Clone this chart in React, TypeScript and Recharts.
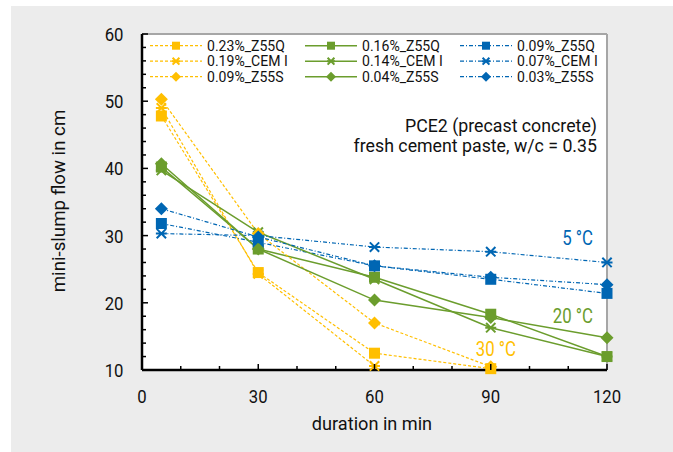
import {
  LineChart,
  Line,
  XAxis,
  YAxis,
  CartesianGrid,
  ReferenceLine,
  Customized,
} from "recharts";

const times = [5, 30, 60, 90, 120];

// 30 °C
const y23Z55Q = [47.8, 24.5, 12.5, 10.2, null];
const y19CEM = [49.0, 24.3, 10.6, null, null];
const y09Z55S = [50.3, 30.3, 17.0, 10.5, null];
// 20 °C
const g16Z55Q = [40.2, 28.0, 23.8, 18.3, 12.0];
const g14CEM = [39.7, 30.5, 23.5, 16.3, 12.0];
const g04Z55S = [40.7, 28.0, 20.4, 17.8, 14.8];
// 5 °C
const b09Z55Q = [31.8, 29.0, 25.5, 23.5, 21.4];
const b07CEM = [30.3, 30.0, 28.3, 27.6, 26.0];
const b03Z55S = [34.0, 29.8, 25.5, 23.8, 22.7];

const xTicks = [0, 10, 20, 30, 40, 50, 60, 70, 80, 90, 100, 110, 120];
const xLabels = [0, 30, 60, 90, 120];
const yTicks = [10, 12, 14, 16, 18, 20, 22, 24, 26, 28, 30, 32, 34, 36, 38, 40, 42, 44, 46, 48, 50, 52, 54, 56, 58, 60];
const yLabels = [10, 20, 30, 40, 50, 60];

const YELLOW = "#ffbf00";
const GREEN = "#6b9d2d";
const BLUE = "#0066b3";
const INK = "#111";
const FONT = "Roboto, sans-serif";

type Shape = "square" | "star" | "diamond";

type SeriesDef = {
  key: string;
  name: string;
  values: (number | null)[];
  color: string;
  shape: Shape;
  dash?: string;
  width: number;
};

const series: SeriesDef[] = [
  { key: "y1", name: "0.23%_Z55Q", values: y23Z55Q, color: YELLOW, shape: "square", dash: "3 2", width: 1.2 },
  { key: "g1", name: "0.16%_Z55Q", values: g16Z55Q, color: GREEN, shape: "square", width: 1.5 },
  { key: "b1", name: "0.09%_Z55Q", values: b09Z55Q, color: BLUE, shape: "square", dash: "4 2 1 2", width: 1.2 },
  { key: "y2", name: "0.19%_CEM I", values: y19CEM, color: YELLOW, shape: "star", dash: "3 2", width: 1.2 },
  { key: "g2", name: "0.14%_CEM I", values: g14CEM, color: GREEN, shape: "star", width: 1.5 },
  { key: "b2", name: "0.07%_CEM I", values: b07CEM, color: BLUE, shape: "star", dash: "4 2 1 2", width: 1.2 },
  { key: "y3", name: "0.09%_Z55S", values: y09Z55S, color: YELLOW, shape: "diamond", dash: "3 2", width: 1.2 },
  { key: "g3", name: "0.04%_Z55S", values: g04Z55S, color: GREEN, shape: "diamond", width: 1.5 },
  { key: "b3", name: "0.03%_Z55S", values: b03Z55S, color: BLUE, shape: "diamond", dash: "4 2 1 2", width: 1.2 },
];

const rows = times.map((t, i) => {
  const row: Record<string, number | null> = { t };
  series.forEach((s) => {
    row[s.key] = s.values[i];
  });
  return row;
});

// narrow text: Roboto squeezed horizontally
const NText = ({ x, y, size, color = INK, sx = 1, anchor = "start", children }: any) => (
  <text
    transform={`translate(${x},${y}) scale(${sx},1)`}
    textAnchor={anchor}
    fontSize={size}
    fontFamily={FONT}
    fill={color}
  >
    {children}
  </text>
);

const Marker = ({ cx, cy, shape, color, size }: { cx: number; cy: number; shape: Shape; color: string; size: number }) => {
  const h = size / 2;
  if (shape === "square") {
    return <rect x={cx - h} y={cy - h} width={size} height={size} fill={color} />;
  }
  if (shape === "diamond") {
    return (
      <path
        d={`M${cx},${cy - h - 1}L${cx + h + 1},${cy}L${cx},${cy + h + 1}L${cx - h - 1},${cy}Z`}
        fill={color}
      />
    );
  }
  const k = h * 0.85;
  return (
    <path
      d={`M${cx - k},${cy - k}L${cx + k},${cy + k}M${cx - k},${cy + k}L${cx + k},${cy - k}M${cx - h},${cy}L${cx + h},${cy}`}
      stroke={color}
      strokeWidth={2}
      fill="none"
    />
  );
};

const makeDot = (s: SeriesDef) => (props: any) => {
  const { cx, cy, index, value } = props;
  if (value == null || cx == null || cy == null) return <g key={`${s.key}-${index}`} />;
  return (
    <g key={`${s.key}-${index}`}>
      <Marker cx={cx} cy={cy} shape={s.shape} color={s.color} size={11} />
    </g>
  );
};

const XTick = (props: any) => {
  const { x, y, payload } = props;
  const major = xLabels.includes(payload.value);
  return (
    <g>
      <line x1={x} y1={y} x2={x} y2={y - (major ? 6 : 4)} stroke="#000" strokeWidth={1.5} />
      {major && (
        <NText x={x} y={y + 33} size={19} sx={0.88} anchor="middle">
          {payload.value}
        </NText>
      )}
    </g>
  );
};

const YTick = (props: any) => {
  const { x, y, payload } = props;
  const major = yLabels.includes(payload.value);
  return (
    <g>
      <line x1={x} y1={y} x2={x + (major ? 6 : 4)} y2={y} stroke="#000" strokeWidth={1.5} />
      {major && (
        <NText x={x - 18.5} y={y + 7} size={19} sx={0.88} anchor="end">
          {payload.value}
        </NText>
      )}
    </g>
  );
};

const legendCols = [150, 305, 460];
const legendRows = [45.7, 61.2, 76.7];

const LegendBox = () => (
  <g>
    {series.map((s, i) => {
      const lx = legendCols[i % 3];
      const ly = legendRows[Math.floor(i / 3)];
      return (
        <g key={s.key}>
          <line x1={lx} y1={ly} x2={lx + 52} y2={ly} stroke={s.color} strokeWidth={s.width} strokeDasharray={s.dash} />
          <Marker cx={lx + 26} cy={ly} shape={s.shape} color={s.color} size={8} />
          <NText x={lx + 57} y={ly + 5} size={14.5} sx={0.97}>
            {s.name}
          </NText>
        </g>
      );
    })}
  </g>
);

const Notes = () => (
  <g>
    <LegendBox />
    <NText x={597} y={132} size={18.7} sx={0.95} anchor="end">
      PCE2 (precast concrete)
    </NText>
    <NText x={597} y={152} size={18.7} sx={0.95} anchor="end">
      fresh cement paste, w/c = 0.35
    </NText>
    <NText x={593} y={245} size={21} sx={0.8} anchor="end" color={BLUE}>
      5 °C
    </NText>
    <NText x={593} y={323} size={21} sx={0.8} anchor="end" color={GREEN}>
      20 °C
    </NText>
    <NText x={516} y={356} size={21} sx={0.8} anchor="end" color={YELLOW}>
      30 °C
    </NText>
    <text
      transform="translate(65,201) rotate(-90)"
      textAnchor="middle"
      fontSize={18.7}
      fontFamily={FONT}
      fill={INK}
    >
      mini-slump flow in cm
    </text>
    <NText x={372} y={430} size={18.7} sx={0.97} anchor="middle">
      duration in min
    </NText>
  </g>
);

export default function App() {
  return (
    <div style={{ position: "absolute", left: 0, top: 0, width: 673, height: 452, background: "#fff" }}>
      <div style={{ position: "absolute", left: 11, top: 6, right: 0, bottom: 0, background: "#ececec" }} />
      <div style={{ position: "absolute", left: 0, top: 0 }}>
        <LineChart width={673} height={452} data={rows} margin={{ top: 34, right: 66, bottom: 0, left: 0 }}>
          <CartesianGrid fill="#fff" horizontal={false} vertical={false} />
          <ReferenceLine y={60} stroke="#a6a6a6" strokeWidth={2} />
          <ReferenceLine x={120} stroke="#a6a6a6" strokeWidth={2} />
          <XAxis
            dataKey="t"
            type="number"
            domain={[0, 120]}
            ticks={xTicks}
            interval={0}
            height={82}
            tickLine={false}
            tickSize={0}
            tickMargin={0}
            axisLine={{ stroke: "#000", strokeWidth: 2.5 }}
            tick={<XTick />}
          />
          <YAxis
            type="number"
            domain={[10, 60]}
            ticks={yTicks}
            interval={0}
            width={142}
            tickLine={false}
            tickSize={0}
            tickMargin={0}
            axisLine={{ stroke: "#000", strokeWidth: 2.5 }}
            tick={<YTick />}
          />
          {series.map((s) => (
            <Line
              key={s.key}
              dataKey={s.key}
              name={s.name}
              type="linear"
              stroke={s.color}
              strokeWidth={s.width}
              strokeDasharray={s.dash}
              dot={makeDot(s)}
              activeDot={false}
              isAnimationActive={false}
            />
          ))}
          <Customized component={Notes} />
        </LineChart>
      </div>
    </div>
  );
}
